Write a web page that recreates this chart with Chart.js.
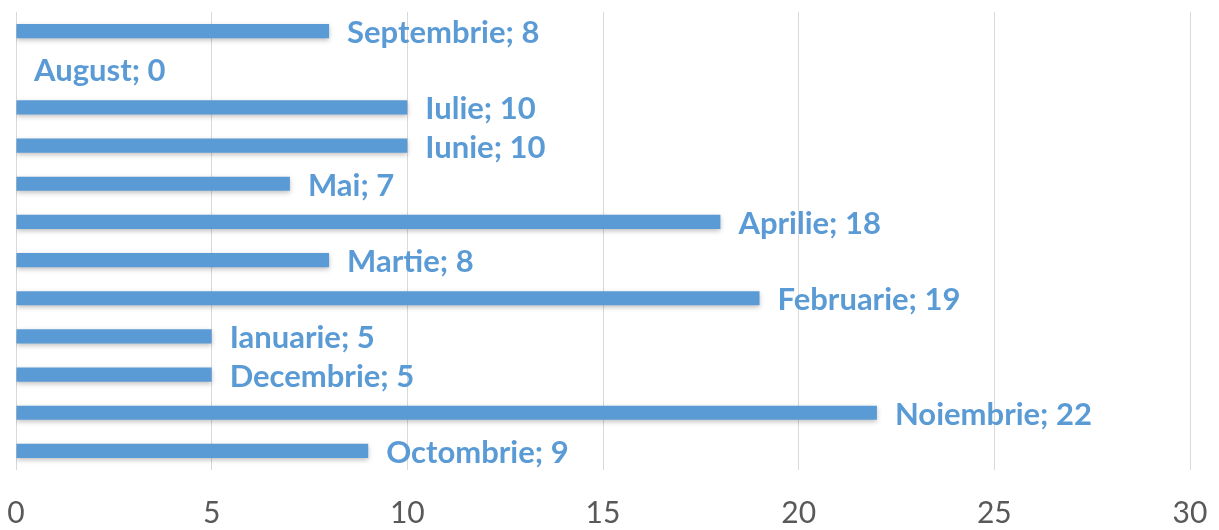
<!DOCTYPE html>
<html>
<head>
<meta charset="utf-8">
<script src="https://cdn.jsdelivr.net/npm/chart.js@4"></script>
<style>
  html, body { margin: 0; padding: 0; background: #fff; }
  #wrap { width: 1219px; height: 530px; }
</style>
</head>
<body>
<div id="wrap"><canvas id="chart"></canvas></div>
<script>
const months = ["Septembrie", "August", "Iulie", "Iunie", "Mai", "Aprilie",
  "Martie", "Februarie", "Ianuarie", "Decembrie", "Noiembrie", "Octombrie"];
const counts = [8, 0, 10, 10, 7, 18, 8, 19, 5, 5, 22, 9];
const xTicks = [0, 5, 10, 15, 20, 25, 30];

const barBlue = "#5B9BD5";

// label "Name; value" to the right of each bar
const endLabels = {
  id: "endLabels",
  afterDatasetsDraw(chart) {
    const ctx = chart.ctx;
    const meta = chart.getDatasetMeta(0);
    ctx.save();
    ctx.fillStyle = barBlue;
    ctx.font = "bold 31px Lato";
    ctx.textBaseline = "middle";
    meta.data.forEach((bar, i) => {
      ctx.fillText(months[i] + "; " + counts[i], bar.x + 18, bar.y + 2);
    });
    ctx.restore();
  },
};

// soft shadow under bars
const barShadow = {
  id: "barShadow",
  beforeDatasetsDraw(chart) {
    const ctx = chart.ctx;
    ctx.save();
    ctx.shadowColor = "rgba(0,0,0,0.25)";
    ctx.shadowBlur = 5;
    ctx.shadowOffsetY = 2;
  },
  afterDatasetsDraw(chart) {
    chart.ctx.restore();
  },
};

new Chart(document.getElementById("chart"), {
  type: "bar",
  data: {
    labels: months,
    datasets: [{
      data: counts,
      backgroundColor: barBlue,
      borderWidth: 0,
      barPercentage: 0.37,
      categoryPercentage: 1,
    }],
  },
  plugins: [barShadow, endLabels],
  options: {
    indexAxis: "y",
    responsive: true,
    maintainAspectRatio: false,
    animation: false,
    layout: { padding: { left: 16, right: 29, top: 12, bottom: 0 } },
    plugins: { legend: { display: false }, tooltip: { enabled: false } },
    scales: {
      x: {
        min: 0,
        max: 30,
        afterBuildTicks(axis) {
          axis.ticks = xTicks.map(v => ({ value: v }));
        },
        afterFit(axis) {
          axis.paddingLeft = 0;
          axis.paddingRight = 0;
          axis.height = 60;
        },
        grid: { color: "#d9d9d9", lineWidth: 1, drawTicks: false },
        border: { display: false },
        ticks: {
          color: "#595959",
          font: { family: "Lato", size: 30, lineHeight: 1 },
          padding: 28,
          maxRotation: 0,
        },
      },
      y: {
        display: false,
      },
    },
  },
});
</script>
</body>
</html>
